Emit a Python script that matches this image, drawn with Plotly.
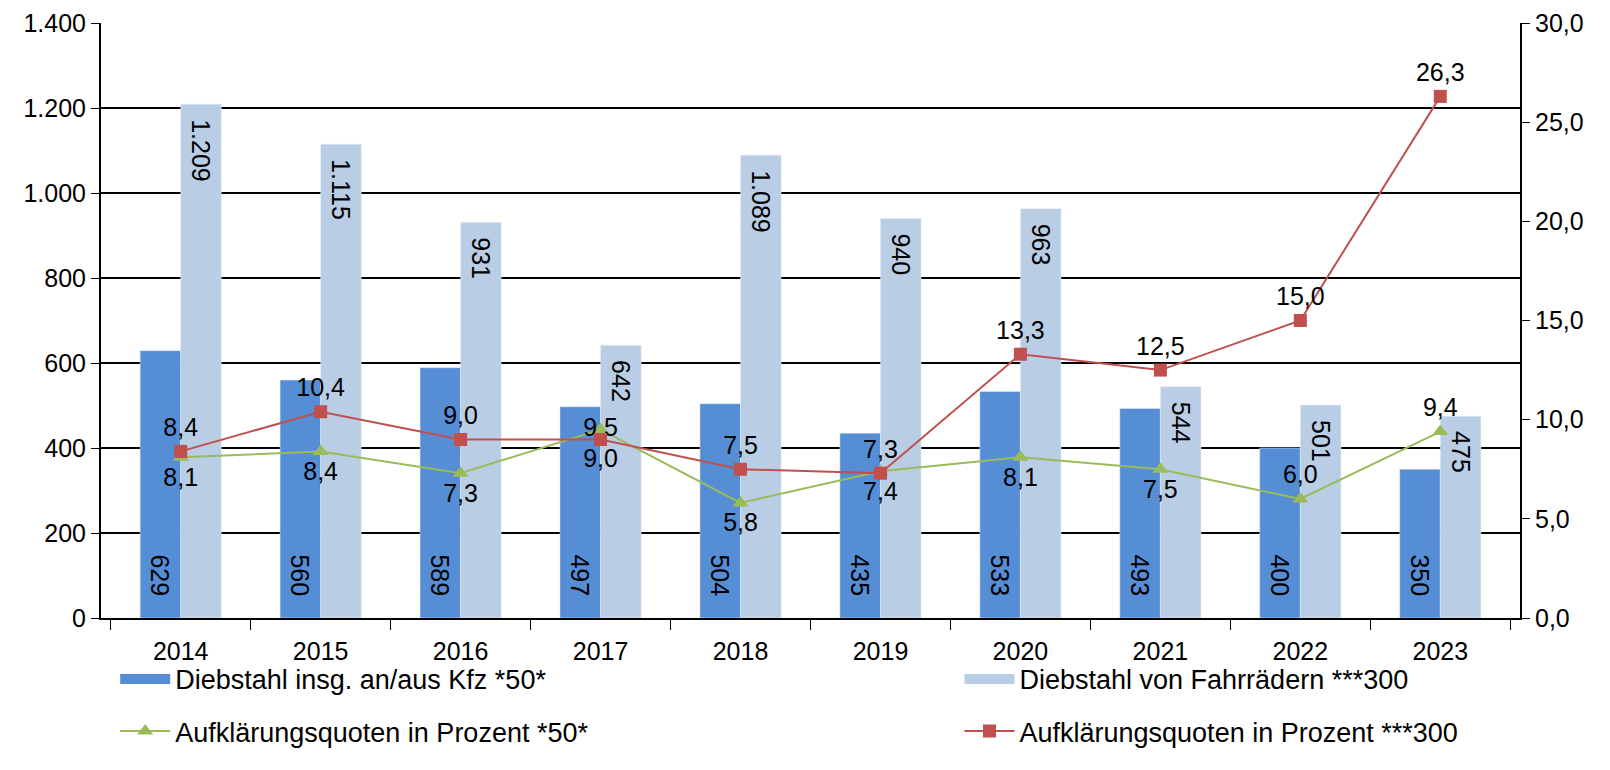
import plotly.graph_objects as go

years = ["2014", "2015", "2016", "2017", "2018", "2019", "2020", "2021", "2022", "2023"]
kfz = [629, 560, 589, 497, 504, 435, 533, 493, 400, 350]
fahrrad = [1209, 1115, 931, 642, 1089, 940, 963, 544, 501, 475]
quote_kfz = [8.1, 8.4, 7.3, 9.5, 5.8, 7.4, 8.1, 7.5, 6.0, 9.4]
quote_rad = [8.4, 10.4, 9.0, 9.0, 7.5, 7.3, 13.3, 12.5, 15.0, 26.3]

pos_kfz = ["bottom center"] * 3 + ["middle center"] + ["bottom center"] * 4 + ["top center"] * 2
pos_rad = ["top center"] * 3 + ["bottom center"] + ["top center"] * 6

col_kfz = "#558ED5"
col_rad = "#B9CDE5"
col_q_kfz = "#9BBB59"
col_q_rad = "#C0504D"

font_main = "Liberation Sans, Arial, sans-serif"
pad = "\u00a0\u2009"

fig = go.Figure()
fig.add_trace(go.Bar(
    x=years, y=kfz, name="Diebstahl insg. an/aus Kfz *50*",
    marker=dict(color=col_kfz), showlegend=False,
    texttemplate=pad + "%{y:,}\u00a0\u00a0\u2009", textposition="inside",
    insidetextanchor="start", textangle=90,
    insidetextfont=dict(color="black", size=25, family=font_main),
))
fig.add_trace(go.Bar(
    x=years, y=fahrrad, name="Diebstahl von Fahrrädern ***300",
    marker=dict(color=col_rad), showlegend=False,
    texttemplate=pad + "%{y:,}" + pad, textposition="inside",
    insidetextanchor="end", textangle=90,
    insidetextfont=dict(color="black", size=25, family=font_main),
))
fig.add_trace(go.Scatter(
    x=years, y=quote_kfz, name="Aufklärungsquoten in Prozent *50*",
    yaxis="y2", mode="lines+markers+text", showlegend=False,
    line=dict(color=col_q_kfz, width=2),
    marker=dict(symbol="triangle-up", size=14, color=col_q_kfz),
    texttemplate="%{y:.1f}", textposition=pos_kfz,
    textfont=dict(size=25, color="black", family=font_main),
))
fig.add_trace(go.Scatter(
    x=years, y=quote_rad, name="Aufklärungsquoten in Prozent ***300",
    yaxis="y2", mode="lines+markers+text", showlegend=False,
    line=dict(color=col_q_rad, width=2),
    marker=dict(symbol="square", size=13, color=col_q_rad),
    texttemplate="%{y:.1f}", textposition=pos_rad,
    textfont=dict(size=25, color="black", family=font_main),
))

# legend entries (bar keys drawn as wide blocks like the original)
fig.add_trace(go.Scatter(x=[None], y=[None], mode="lines", name="Diebstahl insg. an/aus Kfz *50*",
                         line=dict(color=col_kfz, width=16), legend="legend", legendgroup="a"))
fig.add_trace(go.Scatter(x=[None], y=[None], mode="lines+markers", name="Aufklärungsquoten in Prozent *50*",
                         line=dict(color=col_q_kfz, width=2),
                         marker=dict(symbol="triangle-up", size=14, color=col_q_kfz),
                         legend="legend", legendgroup="c"))
fig.add_trace(go.Scatter(x=[None], y=[None], mode="lines", name="Diebstahl von Fahrrädern ***300",
                         line=dict(color=col_rad, width=16), legend="legend2", legendgroup="b"))
fig.add_trace(go.Scatter(x=[None], y=[None], mode="lines+markers", name="Aufklärungsquoten in Prozent ***300",
                         line=dict(color=col_q_rad, width=2),
                         marker=dict(symbol="square", size=13, color=col_q_rad),
                         legend="legend2", legendgroup="d"))

legend_style = dict(
    orientation="v", yanchor="top", y=-0.062, xanchor="left",
    font=dict(size=27, family=font_main, color="black"),
    tracegroupgap=14, itemwidth=50, bgcolor="rgba(0,0,0,0)",
)

fig.update_layout(
    width=1610, height=770,
    margin=dict(l=93, r=98, t=15, b=160),
    plot_bgcolor="white", paper_bgcolor="white",
    separators=",.",
    barmode="group", bargap=0.42, bargroupgap=0,
    font=dict(family=font_main, size=25, color="black"),
    xaxis=dict(
        type="category", showline=True, linecolor="black", linewidth=2,
        ticks="outside", tickson="boundaries", ticklen=10, tickcolor="black",
        tickfont=dict(size=25), ticklabelstandoff=10, automargin=False,
    ),
    yaxis=dict(
        range=[0, 1400], dtick=200, tickformat=",",
        showgrid=True, gridcolor="black", gridwidth=2,
        showline=True, linecolor="black", linewidth=2,
        ticks="outside", ticklen=8, tickcolor="black",
        zeroline=False, tickfont=dict(size=25), automargin=False,
    ),
    yaxis2=dict(
        range=[0, 30], dtick=5, tickformat=".1f", overlaying="y", side="right",
        showgrid=False, showline=True, linecolor="black", linewidth=2,
        ticks="outside", ticklen=8, tickcolor="black",
        zeroline=False, tickfont=dict(size=25), automargin=False,
    ),
    legend=dict(x=0.01, **legend_style),
    legend2=dict(x=0.605, **legend_style),
)

fig.write_html("out.html")
